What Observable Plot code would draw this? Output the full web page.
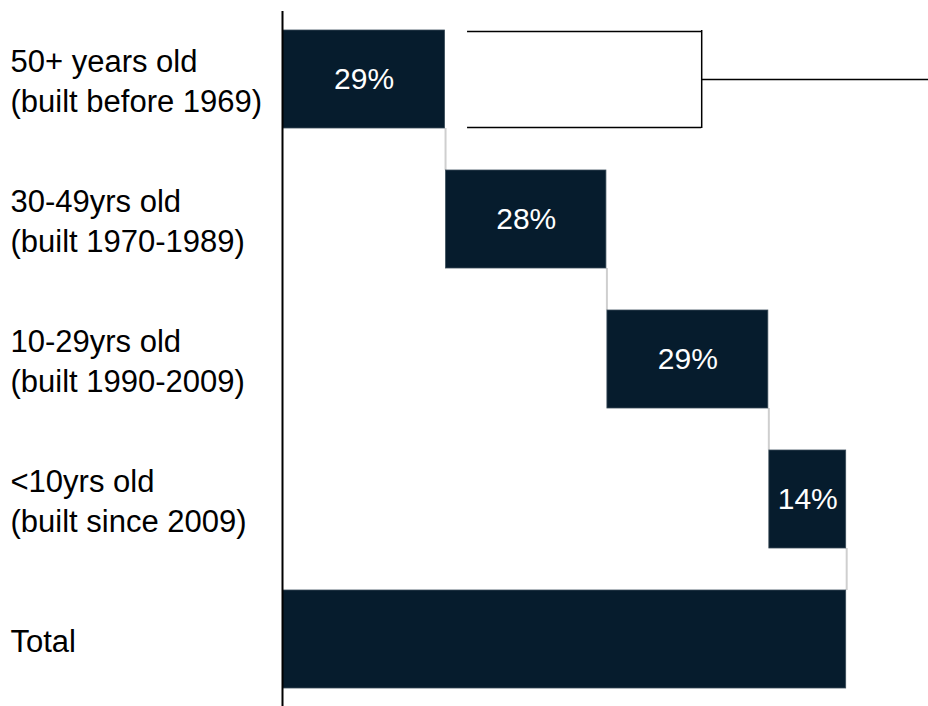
<!DOCTYPE html>
<html><head><meta charset="utf-8">
<script src="https://cdn.jsdelivr.net/npm/d3@7"></script>
<script src="https://cdn.jsdelivr.net/npm/@observablehq/plot@0.6"></script>
<style>body{margin:0;background:#fff}</style>
</head><body><div id="chart"></div>
<script>
const categories = ["50+ years old\n(built before 1969)", "30-49yrs old\n(built 1970-1989)", "10-29yrs old\n(built 1990-2009)", "<10yrs old\n(built since 2009)", "Total"];
const values = [28.9, 28.6, 28.7, 13.8];
const valueLabels = ["29%", "28%", "29%", "14%"];
const bracketX = [32.8, 74.3, 114.5];

let acc = 0;
const rows = values.map((v, i) => {
  const r = {cat: categories[i], x1: acc, x2: acc + v, label: valueLabels[i]};
  acc += v;
  return r;
});
const total = acc;
rows.push({cat: categories[4], x1: 0, x2: total, label: ""});
const connectors = rows.slice(0, 4).map((r, i) => ({x: r.x2, y1: r.cat, y2: categories[i + 1]}));

const navy = "#061c2d";
const chart = Plot.plot({
  width: 928, height: 706,
  marginLeft: 282, marginRight: 0, marginTop: 11, marginBottom: 0,
  style: {fontFamily: "'Liberation Sans', Arial, sans-serif", background: "#fff"},
  x: {domain: [0, bracketX[2]], axis: null},
  y: {domain: categories, axis: null, paddingInner: 0.301, paddingOuter: 0.128},
  marks: [
    Plot.ruleX(connectors, {x: "x", y1: "y1", y2: "y2", stroke: "#cfcfcf", strokeWidth: 2, insetTop: 98, insetBottom: 98}),
    Plot.barX(rows, {x1: "x1", x2: "x2", y: "cat", fill: navy, stroke: "#3a4c59", strokeWidth: 0.8, insetRight: 0.5, insetLeft: 0.5}),
    Plot.text(rows, {x: d => (d.x1 + d.x2) / 2, y: "cat", text: "label", fill: "white", fontSize: 30}),
    Plot.text(categories, {y: d => d, text: d => d, frameAnchor: "left", textAnchor: "start", dx: -272, fontSize: 31, lineHeight: 1.28, fill: "black"}),
    Plot.ruleY([categories[0]], {y: d => d, x1: bracketX[0], x2: bracketX[1], dy: -48, stroke: "black", strokeWidth: 1.5}),
    Plot.ruleY([categories[0]], {y: d => d, x1: bracketX[0], x2: bracketX[1], dy: 48, stroke: "black", strokeWidth: 1.5}),
    Plot.ruleY([categories[0]], {y: d => d, x1: bracketX[1], x2: bracketX[2], stroke: "black", strokeWidth: 1.5}),
    Plot.tickX([categories[0]], {x: () => bracketX[1], y: d => d, stroke: "black", strokeWidth: 1.5}),
    Plot.ruleX([0], {stroke: "black", strokeWidth: 2})
  ]
});
document.getElementById("chart").append(chart);
</script>
</body></html>
